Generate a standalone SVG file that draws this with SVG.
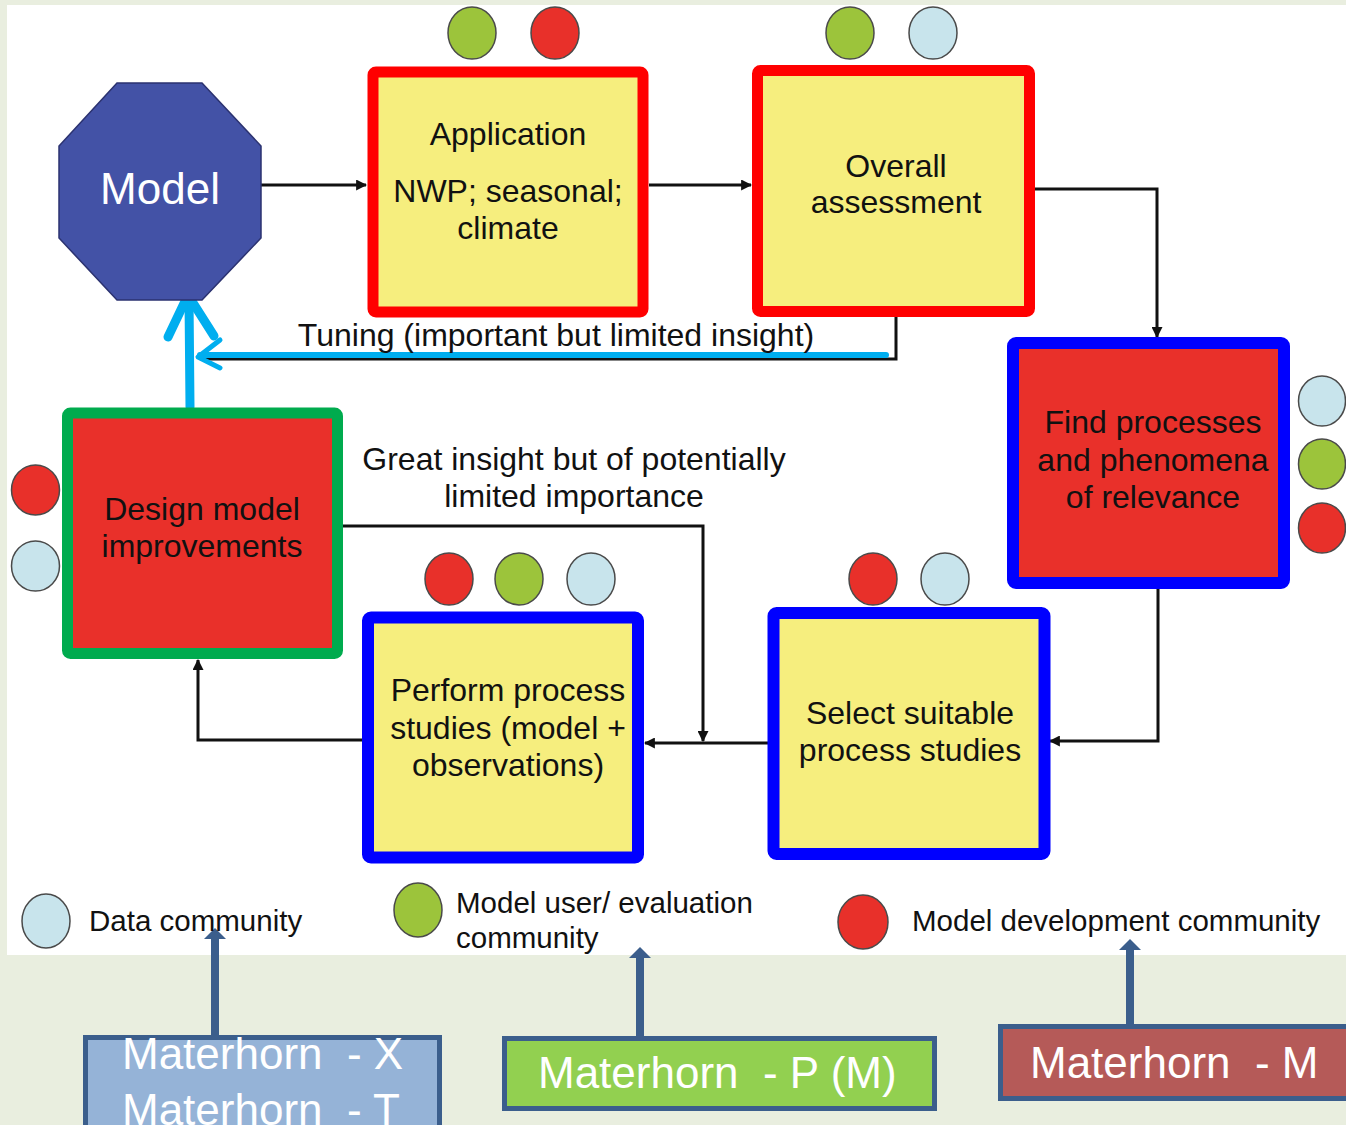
<svg xmlns="http://www.w3.org/2000/svg" width="1346" height="1125" viewBox="0 0 1346 1125">
<defs>
<style>
.t{font-family:"Liberation Sans",Arial,sans-serif;font-size:32px;fill:#111;text-anchor:middle}
.lg{font-family:"Liberation Sans",Arial,sans-serif;font-size:29.5px;fill:#111}
.mt{font-family:"Liberation Sans",Arial,sans-serif;font-size:44px;fill:#fff}
.yel{fill:#F6EE7E}
.redf{fill:#E9302A}
.bR{stroke:#FF0000;stroke-width:11}
.bB{stroke:#0000FF;stroke-width:12}
.bG{stroke:#00AB4E;stroke-width:11}
.cg{fill:#9CC43B;stroke:#4a4a4a;stroke-width:1.5}
.cr{fill:#E8302A;stroke:#4a4a4a;stroke-width:1.5}
.cb{fill:#C8E4EC;stroke:#4a4a4a;stroke-width:1.5}
.con{fill:none;stroke:#111;stroke-width:3}
.cy{fill:none;stroke:#00AEEF;stroke-linecap:round;stroke-linejoin:round}
.db{fill:none;stroke:#3B5E8C;stroke-width:8}
.mb{stroke:#3B5E8C;stroke-width:5}
</style>
<marker id="ah" viewBox="0 0 10 10" refX="9" refY="5" markerWidth="11" markerHeight="11" markerUnits="userSpaceOnUse" orient="auto">
<path d="M0,0 L10,5 L0,10 z" fill="#111"/>
</marker>
<marker id="bh" viewBox="0 0 11 22" refX="0" refY="11" markerWidth="11" markerHeight="22" markerUnits="userSpaceOnUse" orient="auto">
<path d="M0,0 L11,11 L0,22 z" fill="#3B5E8C"/>
</marker>
</defs>
<rect x="0" y="0" width="1346" height="1125" fill="#E9EEDF"/>
<rect x="7" y="5" width="1339" height="950" fill="#FFFFFF"/>

<g id="connectors">
<path class="con" d="M261,185 L366,185" marker-end="url(#ah)"/>
<path class="con" d="M649,185 L751,185" marker-end="url(#ah)"/>
<path class="con" d="M1035,189 L1157,189 L1157,337" marker-end="url(#ah)"/>
<path class="con" d="M1158,589 L1158,741 L1050,741" marker-end="url(#ah)"/>
<path class="con" d="M768,743 L645,743" marker-end="url(#ah)"/>
<path class="con" d="M343,526 L703,526 L703,741" marker-end="url(#ah)"/>
<path class="con" d="M362,740 L198,740 L198,660" marker-end="url(#ah)"/>
<path class="con" d="M896,317 L896,359 L200,359"/>
<path class="cy" stroke-width="6" d="M886,355 L200,355"/>
<path class="cy" stroke-width="5" d="M220,340 L198,357 L220,368"/>
<path class="cy" stroke-width="9" d="M190,407 L189,298"/>
<path class="cy" stroke-width="9" d="M168,337 L188,295 L214,336"/>
<path class="db" d="M215,1035 L215,939" marker-end="url(#bh)"/>
<path class="db" d="M640,1036 L640,958" marker-end="url(#bh)"/>
<path class="db" d="M1130,1024 L1130,950" marker-end="url(#bh)"/>
</g>

<g id="model">
<polygon points="117,83 202,83 261,146 261,238 202,300 117,300 59,238 59,146" fill="#4352A6" stroke="#2B3270" stroke-width="1.5"/>
<text x="160" y="204" class="t" style="fill:#fff;font-size:44px">Model</text>
</g>

<g id="application">
<rect x="373" y="72" width="270" height="240" rx="3" class="yel bR"/>
<text x="508" y="145" class="t">Application</text>
<text x="508" y="202" class="t">NWP; seasonal;</text>
<text x="508" y="239" class="t">climate</text>
<ellipse cx="472" cy="33" rx="24" ry="26" class="cg"/>
<ellipse cx="555" cy="33" rx="24" ry="26" class="cr"/>
</g>

<g id="overall">
<rect x="757.5" y="70.5" width="272" height="241" rx="3" class="yel bR"/>
<text x="896" y="177" class="t">Overall</text>
<text x="896" y="213" class="t">assessment</text>
<ellipse cx="850" cy="33" rx="24" ry="26" class="cg"/>
<ellipse cx="933" cy="33" rx="24" ry="26" class="cb"/>
</g>

<g id="find">
<rect x="1013" y="343" width="271" height="240" rx="3" class="redf bB"/>
<text x="1153" y="433" class="t">Find processes</text>
<text x="1153" y="471" class="t">and phenomena</text>
<text x="1153" y="508" class="t">of relevance</text>
<ellipse cx="1322" cy="401" rx="23.5" ry="25" class="cb"/>
<ellipse cx="1322" cy="464" rx="23.5" ry="25" class="cg"/>
<ellipse cx="1322" cy="528" rx="23.5" ry="25" class="cr"/>
</g>

<g id="design">
<rect x="67.5" y="413" width="270" height="240.5" rx="3" class="redf bG"/>
<text x="202" y="520" class="t">Design model</text>
<text x="202" y="557" class="t">improvements</text>
<ellipse cx="35.5" cy="490" rx="24" ry="25" class="cr"/>
<ellipse cx="35.5" cy="566" rx="24" ry="25" class="cb"/>
</g>

<g id="perform">
<rect x="368" y="617.5" width="270" height="240" rx="3" class="yel bB"/>
<text x="508" y="701" class="t">Perform process</text>
<text x="508" y="739" class="t">studies (model +</text>
<text x="508" y="776" class="t">observations)</text>
<ellipse cx="449" cy="579" rx="24" ry="26" class="cr"/>
<ellipse cx="519" cy="579" rx="24" ry="26" class="cg"/>
<ellipse cx="591" cy="579" rx="24" ry="26" class="cb"/>
</g>

<g id="select">
<rect x="773.5" y="613" width="271" height="241" rx="3" class="yel bB"/>
<text x="910" y="724" class="t">Select suitable</text>
<text x="910" y="761" class="t">process studies</text>
<ellipse cx="873" cy="579" rx="24" ry="26" class="cr"/>
<ellipse cx="945" cy="579" rx="24" ry="26" class="cb"/>
</g>

<g id="labels">
<text x="556" y="346" class="t">Tuning (important but limited insight)</text>
<text x="574" y="470" class="t">Great insight but of potentially</text>
<text x="574" y="507" class="t">limited importance</text>
</g>

<g id="legend">
<ellipse cx="46" cy="921" rx="24" ry="27" class="cb"/>
<text x="89" y="931" class="lg">Data community</text>
<ellipse cx="418" cy="910" rx="24" ry="27" class="cg"/>
<text x="456" y="913" class="lg">Model user/ evaluation</text>
<text x="456" y="948" class="lg">community</text>
<ellipse cx="863" cy="922" rx="25" ry="27" class="cr"/>
<text x="912" y="931" class="lg">Model development community</text>
</g>

<g id="materhorn-xt">
<rect x="85.5" y="1037.5" width="354" height="100" fill="#95B3D7" class="mb"/>
<text x="122" y="1069" class="mt" xml:space="preserve">Materhorn  - X</text>
<text x="122" y="1125" class="mt" xml:space="preserve">Materhorn  - T</text>
</g>

<g id="materhorn-p">
<rect x="504.5" y="1038.5" width="430" height="70" fill="#92D050" class="mb"/>
<text x="538" y="1088" class="mt" xml:space="preserve">Materhorn  - P (M)</text>
</g>

<g id="materhorn-m">
<rect x="1000.5" y="1026.5" width="360" height="72" fill="#B55A58" class="mb"/>
<text x="1030" y="1078" class="mt" xml:space="preserve">Materhorn  - M</text>
</g>
</svg>
